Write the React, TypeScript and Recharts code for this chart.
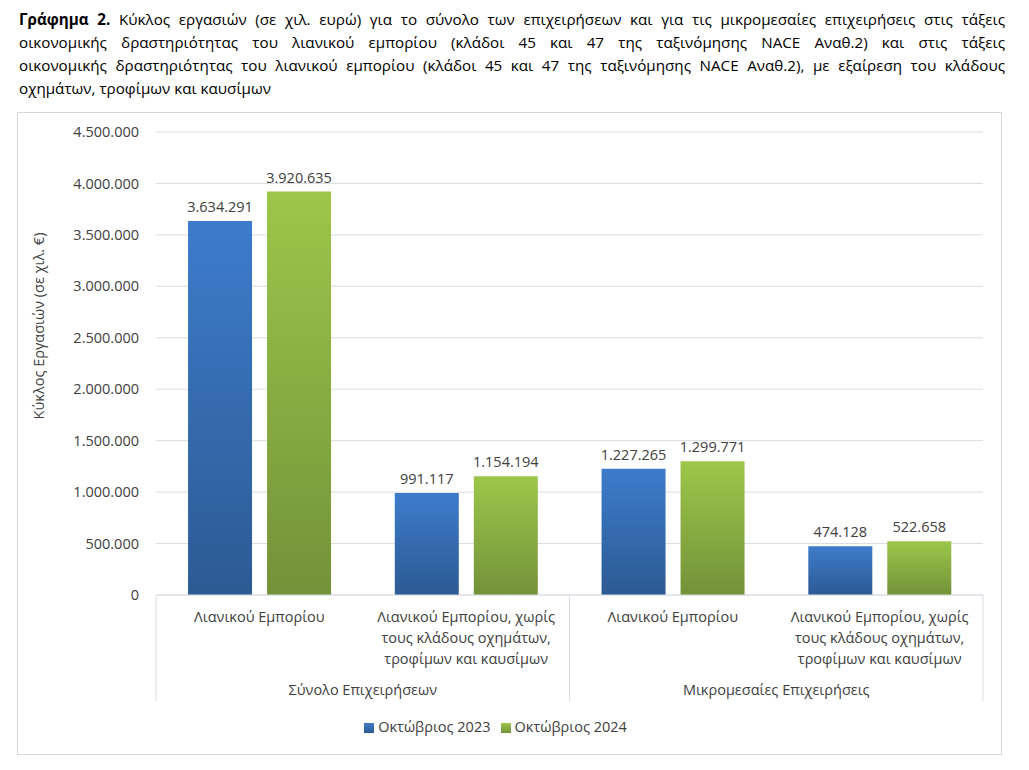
import { Bar, BarChart, CartesianGrid, Legend, LabelList, XAxis, YAxis } from "recharts"

const categories = [
  "Λιανικού Εμπορίου",
  "Λιανικού Εμπορίου, χωρίς\nτους κλάδους οχημάτων,\nτροφίμων και καυσίμων",
  "Λιανικού Εμπορίου",
  "Λιανικού Εμπορίου, χωρίς\nτους κλάδους οχημάτων,\nτροφίμων και καυσίμων",
]
const groups = ["Σύνολο Επιχειρήσεων", "Σύνολο Επιχειρήσεων", "Μικρομεσαίες Επιχειρήσεις", "Μικρομεσαίες Επιχειρήσεις"]
const oct2023 = [3634291, 991117, 1227265, 474128]
const oct2024 = [3920635, 1154194, 1299771, 522658]
const yTicks = [0, 500000, 1000000, 1500000, 2000000, 2500000, 3000000, 3500000, 4000000, 4500000]

const titleLines = [
  "Κύκλος εργασιών (σε χιλ. ευρώ) για το σύνολο των επιχειρήσεων και για τις μικρομεσαίες επιχειρήσεις στις τάξεις",
  "οικονομικής δραστηριότητας του λιανικού εμπορίου (κλάδοι 45 και 47 της ταξινόμησης NACE Αναθ.2) και στις τάξεις",
  "οικονομικής δραστηριότητας του λιανικού εμπορίου (κλάδοι 45 και 47 της ταξινόμησης NACE Αναθ.2), με εξαίρεση του κλάδους",
  "οχημάτων, τροφίμων και καυσίμων",
]

const data = categories.map((name, i) => ({
  name,
  group: groups[i],
  y2023: oct2023[i],
  y2024: oct2024[i],
}))

const FONT = "'Open Sans', 'Noto Sans', sans-serif"
const TEXT = "#404040"
const LINE = "#d9dde3"
const PLOT_W = 827

const fmt = (v: number) => String(Math.round(v)).replace(/\B(?=(\d{3})+(?!\d))/g, ".")

function CategoryTick(props: any) {
  const { x, y, payload } = props
  const lines = String(payload.value).split("\n")
  return (
    <text x={x} y={y} textAnchor="middle" fill={TEXT} fontSize={14.5} fontFamily={FONT}>
      {lines.map((l, i) => (
        <tspan key={i} x={x} dy={i === 0 ? 27 : 21}>
          {l}
        </tspan>
      ))}
    </text>
  )
}

function GroupTick(props: any) {
  const { x, y, payload, index } = props
  const top = y - 78
  const bottom = y + 28
  return (
    <g>
      {index === 0 && <line x1={x - PLOT_W / 4} x2={x - PLOT_W / 4} y1={top} y2={bottom} stroke={LINE} />}
      <line x1={x + PLOT_W / 4} x2={x + PLOT_W / 4} y1={top} y2={bottom} stroke={LINE} />
      <text x={x} y={y + 22} textAnchor="middle" fill={TEXT} fontSize={14.5} fontFamily={FONT}>
        {payload.value}
      </text>
    </g>
  )
}

export default function App() {
  return (
    <div style={{ position: "absolute", left: 0, top: 0, width: 1029, height: 770, background: "#fff", fontFamily: FONT }}>
      <div style={{ position: "absolute", left: 19, top: 8, width: 986, fontSize: 15.2, lineHeight: "23px", color: "#000" }}>
        {titleLines.map((l, i) => (
          <div key={i} style={{ textAlign: "justify", textAlignLast: i < 3 ? "justify" : "left", whiteSpace: "nowrap" }}>
            {i === 0 && <b>Γράφημα 2. </b>}
            {l}
          </div>
        ))}
      </div>
      <div style={{ position: "absolute", left: 17, top: 112, width: 985, height: 643, border: "1px solid #d9d9d9", boxSizing: "border-box" }}>
        <BarChart
          width={985}
          height={643}
          data={data}
          margin={{ top: 19, right: 20, left: 0, bottom: 20 }}
          barCategoryGap="15.5%"
          barGap={15}
        >
          <defs>
            <linearGradient id="gBlue" x1="0" y1="0" x2="0" y2="1">
              <stop offset="0%" stopColor="#3d7ccb" />
              <stop offset="100%" stopColor="#2c5a93" />
            </linearGradient>
            <linearGradient id="gGreen" x1="0" y1="0" x2="0" y2="1">
              <stop offset="0%" stopColor="#9dc64a" />
              <stop offset="100%" stopColor="#739239" />
            </linearGradient>
          </defs>
          <CartesianGrid vertical={false} stroke={LINE} />
          <XAxis
            dataKey="name"
            interval={0}
            height={78}
            tickLine={false}
            axisLine={{ stroke: LINE }}
            tick={<CategoryTick />}
            tickSize={0}
            tickMargin={0}
          />
          <XAxis
            xAxisId="group"
            dataKey="group"
            allowDuplicatedCategory={false}
            height={36}
            tickLine={false}
            axisLine={false}
            tick={<GroupTick />}
            tickSize={0}
            tickMargin={0}
          />
          <YAxis
            width={138}
            domain={[0, 4500000]}
            ticks={yTicks}
            interval={0}
            tickFormatter={fmt}
            tickLine={false}
            axisLine={false}
            tickMargin={11}
            tick={{ fill: TEXT, fontSize: 14.5, fontFamily: FONT }}
            label={{
              value: "Κύκλος Εργασιών (σε χιλ. €)",
              position: "insideLeft",
              content: () => (
                <text
                  x={20}
                  y={213}
                  transform="rotate(-90 20 213)"
                  textAnchor="middle"
                  dominantBaseline="central"
                  fill={TEXT}
                  fontSize={14.5}
                  fontFamily={FONT}
                >
                  Κύκλος Εργασιών (σε χιλ. €)
                </text>
              ),
            }}
          />
          <Legend
            verticalAlign="bottom"
            iconType="square"
            iconSize={10}
            wrapperStyle={{ fontSize: 14.5, color: TEXT, fontFamily: FONT, paddingTop: 8 }}
            formatter={(v: string) => <span style={{ color: TEXT }}>{v}</span>}
          />
          <Bar dataKey="y2023" name="Οκτώβριος 2023" fill="url(#gBlue)" isAnimationActive={false}>
            <LabelList dataKey="y2023" position="top" offset={9} formatter={(v: any) => fmt(Number(v))} fill={TEXT} fontSize={14.5} fontFamily={FONT} />
          </Bar>
          <Bar dataKey="y2024" name="Οκτώβριος 2024" fill="url(#gGreen)" isAnimationActive={false}>
            <LabelList dataKey="y2024" position="top" offset={9} formatter={(v: any) => fmt(Number(v))} fill={TEXT} fontSize={14.5} fontFamily={FONT} />
          </Bar>
        </BarChart>
      </div>
    </div>
  )
}
